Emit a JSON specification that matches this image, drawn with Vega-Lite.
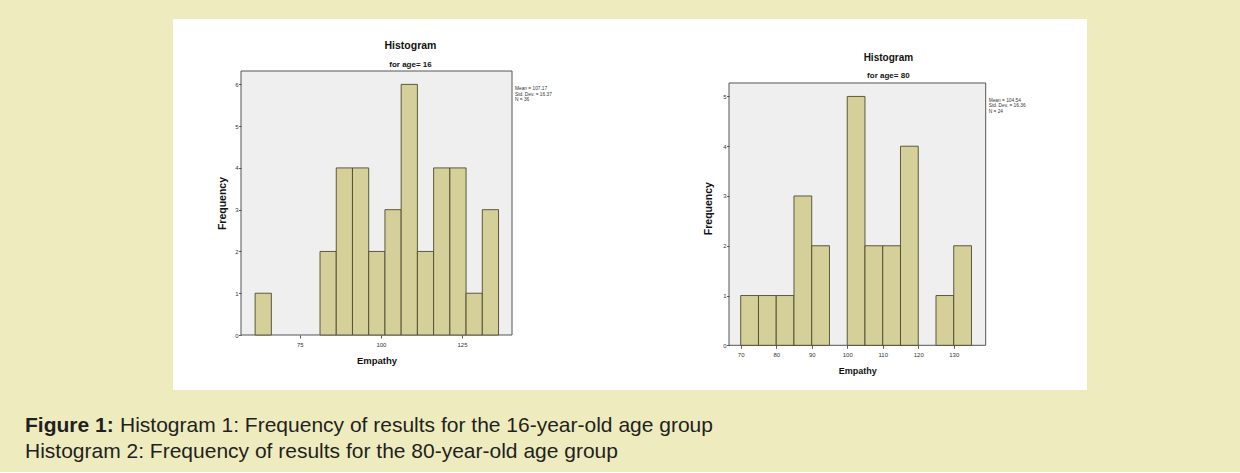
{
  "$schema": "https://vega.github.io/schema/vega-lite/v6.json",
  "background": "#eeecbe",
  "padding": {"left": 25, "top": 18, "right": 154, "bottom": 9},
  "config": {"font": "Liberation Sans", "view": {"stroke": null}},
  "datasets": {
    "age16": [
      {"bin_start": 61.25, "bin_end": 66.25, "count": 1},
      {"bin_start": 81.25, "bin_end": 86.25, "count": 2},
      {"bin_start": 86.25, "bin_end": 91.25, "count": 4},
      {"bin_start": 91.25, "bin_end": 96.25, "count": 4},
      {"bin_start": 96.25, "bin_end": 101.25, "count": 2},
      {"bin_start": 101.25, "bin_end": 106.25, "count": 3},
      {"bin_start": 106.25, "bin_end": 111.25, "count": 6},
      {"bin_start": 111.25, "bin_end": 116.25, "count": 2},
      {"bin_start": 116.25, "bin_end": 121.25, "count": 4},
      {"bin_start": 121.25, "bin_end": 126.25, "count": 4},
      {"bin_start": 126.25, "bin_end": 131.25, "count": 1},
      {"bin_start": 131.25, "bin_end": 136.25, "count": 3}
    ],
    "age80": [
      {"bin_start": 70, "bin_end": 75, "count": 1},
      {"bin_start": 75, "bin_end": 80, "count": 1},
      {"bin_start": 80, "bin_end": 85, "count": 1},
      {"bin_start": 85, "bin_end": 90, "count": 3},
      {"bin_start": 90, "bin_end": 95, "count": 2},
      {"bin_start": 100, "bin_end": 105, "count": 5},
      {"bin_start": 105, "bin_end": 110, "count": 2},
      {"bin_start": 110, "bin_end": 115, "count": 2},
      {"bin_start": 115, "bin_end": 120, "count": 4},
      {"bin_start": 125, "bin_end": 130, "count": 1},
      {"bin_start": 130, "bin_end": 135, "count": 2}
    ],
    "stats16": [{"stats": "Mean = 107.17\nStd. Dev. = 16.37\nN = 36"}],
    "stats80": [{"stats": "Mean = 104.54\nStd. Dev. = 16.36\nN = 24"}]
  },
  "title": {
    "text": "Figure 1:",
    "subtitle": "Histogram 2: Frequency of results for the 80-year-old age group",
    "orient": "bottom",
    "anchor": "start",
    "dx": -95,
    "offset": -21,
    "fontSize": 21,
    "fontWeight": "bold",
    "color": "#231f20",
    "subtitleFontSize": 21,
    "subtitleFontWeight": "normal",
    "subtitleColor": "#231f20",
    "subtitlePadding": 5,
    "font": "Liberation Sans",
    "subtitleFont": "Liberation Sans"
  },
  "vconcat": [
    {
      "spacing": -1,
      "title": {
        "text": "Histogram 1: Frequency of results for the 16-year-old age group",
        "orient": "bottom",
        "anchor": "start",
        "dx": -53,
        "offset": 25,
        "fontSize": 21,
        "fontWeight": "normal",
        "color": "#231f20",
        "font": "Liberation Sans"
      },
      "hconcat": [
        {
          "width": 271,
          "height": 264,
          "title": {"text": "Histogram", "subtitle": "for age= 16", "anchor": "middle", "dx": 34, "offset": -50, "fontSize": 10.5, "fontWeight": "bold", "subtitleFontSize": 8, "subtitleFontWeight": "bold", "subtitlePadding": 9, "color": "#111111", "subtitleColor": "#111111", "zindex": 1},
          "layer": [
            {
              "data": {"values": [{}]},
              "mark": {"type": "rect", "fill": "#ffffff", "clip": false},
              "encoding": {
                "x": {"datum": 35.948, "type": "quantitative", "scale": {"domain": [56.9, 140.4], "nice": false, "zero": false},
                  "axis": {"title": "Empathy", "values": [75, 100, 125], "grid": false, "domain": false, "tickSize": 3, "tickColor": "#333333", "tickWidth": 0.8, "labelFontSize": 6, "labelColor": "#333333", "labelPadding": 3, "labelFlush": false, "titleFontSize": 9.5, "titleFontWeight": "bold", "titleColor": "#111111", "titlePadding": 8, "zindex": 1}},
                "x2": {"datum": 173.985},
                "y": {"datum": 7.56485, "type": "quantitative", "scale": {"domain": [0, 6.32], "nice": false},
                  "axis": {"title": "Frequency", "values": [0, 1, 2, 3, 4, 5, 6], "format": "d", "grid": false, "domain": false, "tickSize": 2.5, "tickColor": "#333333", "tickWidth": 0.8, "labelFontSize": 6, "labelColor": "#333333", "labelPadding": 0.5, "labelFlush": false, "titleFontSize": 10.5, "titleFontWeight": "bold", "titleColor": "#111111", "titlePadding": 7, "zindex": 1}},
                "y2": {"datum": -1.3167}
              }
            },
            {
              "data": {"values": [{}]},
              "mark": {"type": "rect", "fill": "#efefef", "stroke": "#555555", "strokeWidth": 1},
              "encoding": {
                "x": {"datum": 56.9, "type": "quantitative", "scale": {"domain": [56.9, 140.4], "nice": false, "zero": false},
                  "axis": {"title": "Empathy", "values": [75, 100, 125], "grid": false, "domain": false, "tickSize": 3, "tickColor": "#333333", "tickWidth": 0.8, "labelFontSize": 6, "labelColor": "#333333", "labelPadding": 3, "labelFlush": false, "titleFontSize": 9.5, "titleFontWeight": "bold", "titleColor": "#111111", "titlePadding": 8, "zindex": 1}},
                "x2": {"datum": 140.4},
                "y": {"datum": 0, "type": "quantitative", "scale": {"domain": [0, 6.32], "nice": false},
                  "axis": {"title": "Frequency", "values": [0, 1, 2, 3, 4, 5, 6], "format": "d", "grid": false, "domain": false, "tickSize": 2.5, "tickColor": "#333333", "tickWidth": 0.8, "labelFontSize": 6, "labelColor": "#333333", "labelPadding": 0.5, "labelFlush": false, "titleFontSize": 10.5, "titleFontWeight": "bold", "titleColor": "#111111", "titlePadding": 7, "zindex": 1}},
                "y2": {"datum": 6.32}
              }
            },
            {
              "data": {"name": "age16"},
              "mark": {"type": "rect", "fill": "#d5d09a", "stroke": "#4d4a2e", "strokeWidth": 0.9},
              "encoding": {
                "x": {"field": "bin_start", "type": "quantitative", "scale": {"domain": [56.9, 140.4], "nice": false, "zero": false},
                  "axis": {"title": "Empathy", "values": [75, 100, 125], "grid": false, "domain": false, "tickSize": 3, "tickColor": "#333333", "tickWidth": 0.8, "labelFontSize": 6, "labelColor": "#333333", "labelPadding": 3, "labelFlush": false, "titleFontSize": 9.5, "titleFontWeight": "bold", "titleColor": "#111111", "titlePadding": 8, "zindex": 1}},
                "x2": {"field": "bin_end"},
                "y": {"field": "count", "type": "quantitative", "scale": {"domain": [0, 6.32], "nice": false},
                  "axis": {"title": "Frequency", "values": [0, 1, 2, 3, 4, 5, 6], "format": "d", "grid": false, "domain": false, "tickSize": 2.5, "tickColor": "#333333", "tickWidth": 0.8, "labelFontSize": 6, "labelColor": "#333333", "labelPadding": 0.5, "labelFlush": false, "titleFontSize": 10.5, "titleFontWeight": "bold", "titleColor": "#111111", "titlePadding": 7, "zindex": 1}},
                "y2": {"datum": 0}
              }
            },
            {
              "data": {"name": "stats16"},
              "mark": {"type": "text", "align": "left", "baseline": "top", "dx": 3, "dy": 15, "fontSize": 4.8, "lineHeight": 5.5, "lineBreak": "\n", "color": "#333333", "clip": false},
              "encoding": {
                "x": {"datum": 140.4, "type": "quantitative", "scale": {"domain": [56.9, 140.4], "nice": false, "zero": false},
                  "axis": {"title": "Empathy", "values": [75, 100, 125], "grid": false, "domain": false, "tickSize": 3, "tickColor": "#333333", "tickWidth": 0.8, "labelFontSize": 6, "labelColor": "#333333", "labelPadding": 3, "labelFlush": false, "titleFontSize": 9.5, "titleFontWeight": "bold", "titleColor": "#111111", "titlePadding": 8, "zindex": 1}},
                "y": {"datum": 6.32, "type": "quantitative", "scale": {"domain": [0, 6.32], "nice": false},
                  "axis": {"title": "Frequency", "values": [0, 1, 2, 3, 4, 5, 6], "format": "d", "grid": false, "domain": false, "tickSize": 2.5, "tickColor": "#333333", "tickWidth": 0.8, "labelFontSize": 6, "labelColor": "#333333", "labelPadding": 0.5, "labelFlush": false, "titleFontSize": 10.5, "titleFontWeight": "bold", "titleColor": "#111111", "titlePadding": 7, "zindex": 1}},
                "text": {"field": "stats", "type": "nominal"}
              }
            }
          ]
        },
        {
          "width": 256.7,
          "height": 274.3,
          "title": {"text": "Histogram", "subtitle": "for age= 80", "anchor": "middle", "dx": 31, "offset": -61, "fontSize": 10, "fontWeight": "bold", "subtitleFontSize": 8, "subtitleFontWeight": "bold", "subtitlePadding": 9, "color": "#111111", "subtitleColor": "#111111", "zindex": 1},
          "layer": [
            {
              "data": {"values": [{}]},
              "mark": {"type": "rect", "fill": "#ffffff", "clip": false},
              "encoding": {
                "x": {"datum": 36.282, "type": "quantitative", "scale": {"domain": [66.7, 139], "nice": false, "zero": false},
                  "axis": {"title": "Empathy", "values": [70, 80, 90, 100, 110, 120, 130], "grid": false, "domain": false, "tickSize": 3, "tickColor": "#333333", "tickWidth": 0.8, "labelFontSize": 6, "labelColor": "#333333", "labelPadding": 3, "labelFlush": false, "titleFontSize": 9, "titleFontWeight": "bold", "titleColor": "#111111", "titlePadding": 9, "zindex": 1}},
                "x2": {"datum": 167.531},
                "y": {"datum": 6.55573, "type": "quantitative", "scale": {"domain": [0, 5.511], "nice": false},
                  "axis": {"title": "Frequency", "values": [0, 1, 2, 3, 4, 5], "format": "d", "grid": false, "domain": false, "tickSize": 2.5, "tickColor": "#333333", "tickWidth": 0.8, "labelFontSize": 6, "labelColor": "#333333", "labelPadding": 0.5, "labelFlush": false, "titleFontSize": 10.5, "titleFontWeight": "bold", "titleColor": "#111111", "titlePadding": 9.5, "zindex": 1}},
                "y2": {"datum": -0.8981}
              }
            },
            {
              "data": {"values": [{}]},
              "mark": {"type": "rect", "fill": "#efefef", "stroke": "#555555", "strokeWidth": 1},
              "encoding": {
                "x": {"datum": 66.7, "type": "quantitative", "scale": {"domain": [66.7, 139], "nice": false, "zero": false},
                  "axis": {"title": "Empathy", "values": [70, 80, 90, 100, 110, 120, 130], "grid": false, "domain": false, "tickSize": 3, "tickColor": "#333333", "tickWidth": 0.8, "labelFontSize": 6, "labelColor": "#333333", "labelPadding": 3, "labelFlush": false, "titleFontSize": 9, "titleFontWeight": "bold", "titleColor": "#111111", "titlePadding": 9, "zindex": 1}},
                "x2": {"datum": 139},
                "y": {"datum": 0, "type": "quantitative", "scale": {"domain": [0, 5.511], "nice": false},
                  "axis": {"title": "Frequency", "values": [0, 1, 2, 3, 4, 5], "format": "d", "grid": false, "domain": false, "tickSize": 2.5, "tickColor": "#333333", "tickWidth": 0.8, "labelFontSize": 6, "labelColor": "#333333", "labelPadding": 0.5, "labelFlush": false, "titleFontSize": 10.5, "titleFontWeight": "bold", "titleColor": "#111111", "titlePadding": 9.5, "zindex": 1}},
                "y2": {"datum": 5.27}
              }
            },
            {
              "data": {"name": "age80"},
              "mark": {"type": "rect", "fill": "#d5d09a", "stroke": "#4d4a2e", "strokeWidth": 0.9},
              "encoding": {
                "x": {"field": "bin_start", "type": "quantitative", "scale": {"domain": [66.7, 139], "nice": false, "zero": false},
                  "axis": {"title": "Empathy", "values": [70, 80, 90, 100, 110, 120, 130], "grid": false, "domain": false, "tickSize": 3, "tickColor": "#333333", "tickWidth": 0.8, "labelFontSize": 6, "labelColor": "#333333", "labelPadding": 3, "labelFlush": false, "titleFontSize": 9, "titleFontWeight": "bold", "titleColor": "#111111", "titlePadding": 9, "zindex": 1}},
                "x2": {"field": "bin_end"},
                "y": {"field": "count", "type": "quantitative", "scale": {"domain": [0, 5.511], "nice": false},
                  "axis": {"title": "Frequency", "values": [0, 1, 2, 3, 4, 5], "format": "d", "grid": false, "domain": false, "tickSize": 2.5, "tickColor": "#333333", "tickWidth": 0.8, "labelFontSize": 6, "labelColor": "#333333", "labelPadding": 0.5, "labelFlush": false, "titleFontSize": 10.5, "titleFontWeight": "bold", "titleColor": "#111111", "titlePadding": 9.5, "zindex": 1}},
                "y2": {"datum": 0}
              }
            },
            {
              "data": {"name": "stats80"},
              "mark": {"type": "text", "align": "left", "baseline": "top", "dx": 3, "dy": 15, "fontSize": 4.8, "lineHeight": 5.5, "lineBreak": "\n", "color": "#333333", "clip": false},
              "encoding": {
                "x": {"datum": 139, "type": "quantitative", "scale": {"domain": [66.7, 139], "nice": false, "zero": false},
                  "axis": {"title": "Empathy", "values": [70, 80, 90, 100, 110, 120, 130], "grid": false, "domain": false, "tickSize": 3, "tickColor": "#333333", "tickWidth": 0.8, "labelFontSize": 6, "labelColor": "#333333", "labelPadding": 3, "labelFlush": false, "titleFontSize": 9, "titleFontWeight": "bold", "titleColor": "#111111", "titlePadding": 9, "zindex": 1}},
                "y": {"datum": 5.27, "type": "quantitative", "scale": {"domain": [0, 5.511], "nice": false},
                  "axis": {"title": "Frequency", "values": [0, 1, 2, 3, 4, 5], "format": "d", "grid": false, "domain": false, "tickSize": 2.5, "tickColor": "#333333", "tickWidth": 0.8, "labelFontSize": 6, "labelColor": "#333333", "labelPadding": 0.5, "labelFlush": false, "titleFontSize": 10.5, "titleFontWeight": "bold", "titleColor": "#111111", "titlePadding": 9.5, "zindex": 1}},
                "text": {"field": "stats", "type": "nominal"}
              }
            }
          ]
        }
      ]
    }
  ]
}
